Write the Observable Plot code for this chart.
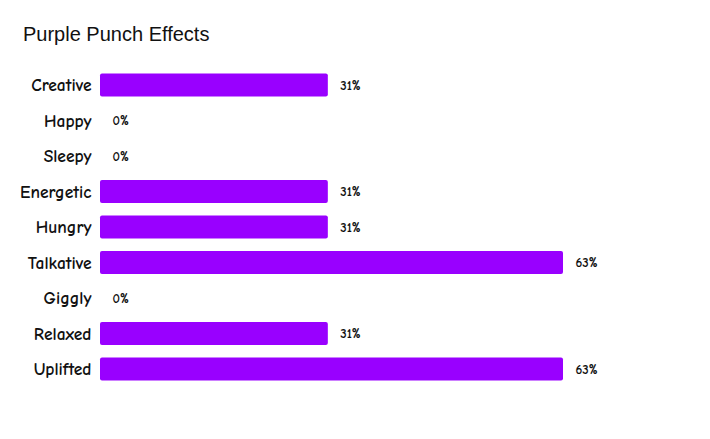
<!DOCTYPE html>
<html>
<head>
<meta charset="utf-8">
<script src="https://cdn.jsdelivr.net/npm/d3@7"></script>
<script src="https://cdn.jsdelivr.net/npm/@observablehq/plot@0.6"></script>
<style>
  html, body { margin: 0; padding: 0; background: #fff; }
  #wrap { position: relative; width: 710px; height: 439px; }
  #title { position: absolute; left: 23px; top: 23px; font-family: "Liberation Sans", Arial, sans-serif; font-size: 20px; color: #111; }
</style>
</head>
<body>
<div id="wrap">
  <div id="title">Purple Punch Effects</div>
  <div id="chart"></div>
</div>
<script>
const categories = ["Creative", "Happy", "Sleepy", "Energetic", "Hungry", "Talkative", "Giggly", "Relaxed", "Uplifted"];
const percents = [31, 0, 0, 31, 31, 63, 0, 31, 63];

const data = categories.map((c, i) => ({effect: c, value: percents[i]}));
const barColor = "#9900ff";
const labelFont = "'Comic Sans MS', 'Comic Neue', 'DejaVu Sans', sans-serif";

const chart = Plot.plot({
  width: 710,
  height: 439,
  marginLeft: 100,
  marginRight: 147,
  marginTop: 0,
  marginBottom: 0,
  style: { background: "transparent", fontFamily: labelFont },
  x: { domain: [0, 63], axis: null },
  y: {
    domain: categories,
    range: [67.25, 386.75],
    round: false,
    paddingInner: 0.35,
    paddingOuter: 0.175,
    label: null,
    tickSize: 0,
    tickPadding: 9
  },
  marks: [
    Plot.barX(data, { y: "effect", x: "value", fill: barColor, rx: 2 }),
    Plot.axisY({ tickSize: 0, tickPadding: 9, fontSize: 17.5, fontWeight: "bold", fill: "#111", label: null }),
    Plot.text(data, {
      y: "effect", x: "value", text: d => d.value + "%",
      textAnchor: "start", dx: 12, fontSize: 13, fontWeight: "bold", fill: "#111"
    })
  ]
});
document.getElementById("chart").appendChild(chart);
</script>
</body>
</html>
